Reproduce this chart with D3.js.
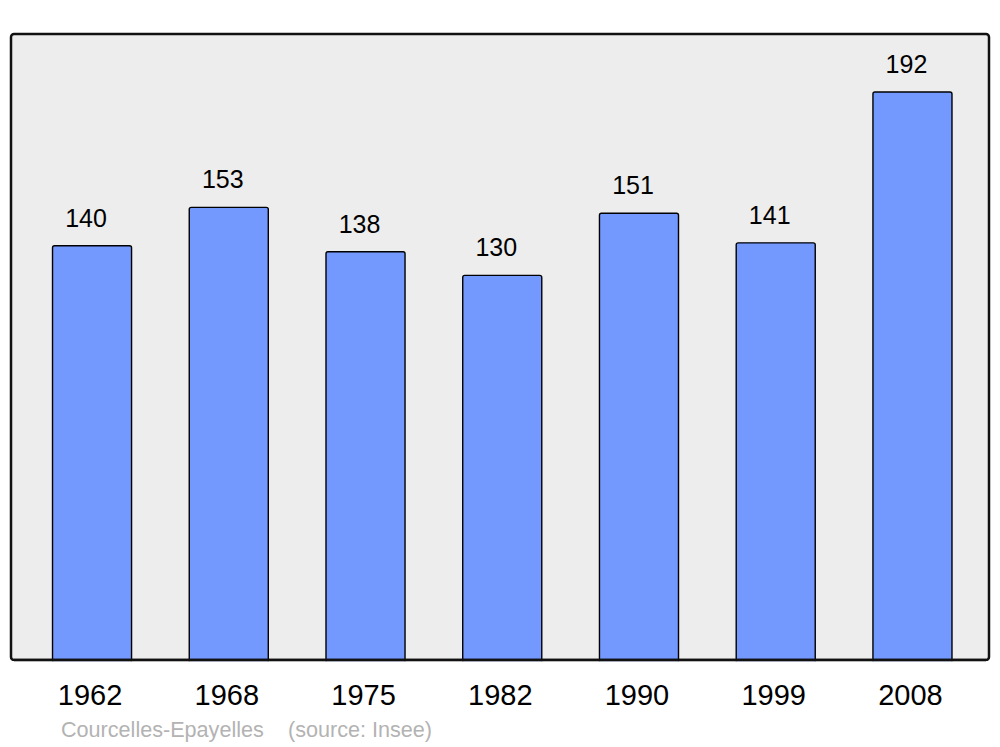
<!DOCTYPE html>
<html><head><meta charset="utf-8">
<script src="https://cdn.jsdelivr.net/npm/d3@7"></script>
<style>html,body{margin:0;padding:0;background:#fff}svg{display:block}</style>
</head><body>
<script>
const years = ["1962","1968","1975","1982","1990","1999","2008"];
const population = [140,153,138,130,151,141,192];
const footerName = "Courcelles-Epayelles";
const footerSource = "(source: Insee)";

const W = 1000, H = 747;
const svg = d3.select("body").append("svg").attr("width", W).attr("height", H);
const frame = {x0: 11, y0: 34, x1: 989, y1: 660};

const x = d3.scaleBand().domain(years).range([11.5, 993]).paddingInner(0.422).paddingOuter(0.3);
const y = d3.scaleLinear().domain([0, 211.6]).range([frame.y1, frame.y0]);

svg.append("rect").attr("x", frame.x0).attr("y", frame.y0)
  .attr("width", frame.x1 - frame.x0).attr("height", frame.y1 - frame.y0)
  .attr("rx", 3).attr("fill", "#ededed");

svg.selectAll("rect.bar").data(population).enter().append("rect").attr("class","bar")
  .attr("x", (d,i) => x(years[i]))
  .attr("y", d => y(d))
  .attr("width", x.bandwidth())
  .attr("height", d => y(0) - y(d) + 3)
  .attr("rx", 2)
  .attr("fill", "#7399ff").attr("stroke", "#000").attr("stroke-width", 1.4);

svg.append("rect").attr("x", frame.x0).attr("y", frame.y0)
  .attr("width", frame.x1 - frame.x0).attr("height", frame.y1 - frame.y0)
  .attr("rx", 3).attr("fill", "none").attr("stroke", "#111").attr("stroke-width", 2.5);

// cover bar overflow below frame
svg.append("rect").attr("x", 0).attr("y", frame.y1 + 1.25).attr("width", W).attr("height", 10).attr("fill", "#fff");
svg.append("line").attr("x1", frame.x0+3).attr("x2", frame.x1-3).attr("y1", frame.y1).attr("y2", frame.y1)
  .attr("stroke", "#111").attr("stroke-width", 2.5);

svg.selectAll("text.val").data(population).enter().append("text").attr("class","val")
  .attr("x", (d,i) => x(years[i]) + x.bandwidth()/2 - 6)
  .attr("y", d => y(d) - 19)
  .attr("text-anchor", "middle")
  .attr("font-family", "'Liberation Sans', Arial, sans-serif")
  .attr("font-size", 25).attr("fill", "#000")
  .text(d => d);

const xAxis = d3.axisBottom(x).tickSize(0).tickPadding(0);
const ax = svg.append("g").attr("transform", `translate(-2, 705)`).call(xAxis);
ax.select(".domain").remove();
ax.selectAll("text").attr("dy", 0)
  .attr("font-family", "'Liberation Sans', Arial, sans-serif")
  .attr("font-size", 29).attr("fill", "#000");

svg.append("text").attr("x", 61).attr("y", 737)
  .attr("font-family", "'Liberation Sans', Arial, sans-serif")
  .attr("font-size", 21.6).attr("fill", "#b3b3b3").text(footerName);
svg.append("text").attr("x", 288).attr("y", 737)
  .attr("font-family", "'Liberation Sans', Arial, sans-serif")
  .attr("font-size", 21.6).attr("fill", "#b3b3b3").text(footerSource);
</script>
</body></html>
